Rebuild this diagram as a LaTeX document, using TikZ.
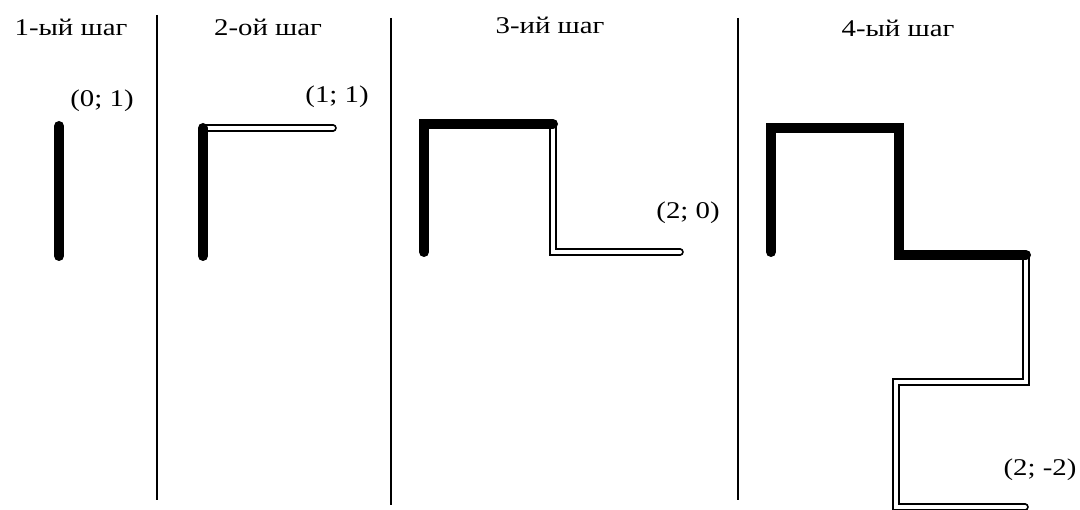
\documentclass[tikz,border=0pt]{standalone}
\usepackage{fontspec}
\setmainfont{Liberation Serif}[FakeStretch=1.2]
\begin{document}
\begin{tikzpicture}[x=1pt,y=-1pt,
  lbl/.style={font=\fontsize{24}{28}\selectfont, inner sep=0pt, anchor=center},
  divider/.style={line width=1.3pt, black},
  walked/.style={line width=10pt, line cap=round, line join=miter},
  newpath/.style={double=white, double distance=4pt, line width=1.8pt, line cap=round, line join=miter}]
\useasboundingbox (0,0) rectangle (1080,510);
% dividers
\draw[divider] (157,15) -- (157,500);
\draw[divider] (391,18) -- (391,505);
\draw[divider] (738,18) -- (738,500);
% titles
\node[lbl] (t1) at (71,27) {1-ый шаг};
\node[lbl] (t2) at (268,27) {2-ой шаг};
\node[lbl] (t3) at (550,25) {3-ий шаг};
\node[lbl] (t4) at (898,28) {4-ый шаг};
% step 1
\coordinate (a0) at (59,256);
\coordinate (a1) at (59,126);
\draw[walked] (a0) -- (a1);
\node[lbl] (l1) at (102,101) {(0; 1)};
% step 2
\coordinate (b0) at (203,256);
\coordinate (b1) at (203,128);
\coordinate (b2) at (333,128);
\draw[newpath] (b1) -- (b2);
\draw[walked] (b0) -- (b1);
\node[lbl] (l2) at (337,97) {(1; 1)};
% step 3
\coordinate (c0) at (424,252);
\coordinate (c1) at (424,124);
\coordinate (c2) at (553,124);
\coordinate (c3) at (553,252);
\coordinate (c4) at (680,252);
\draw[newpath] (c2) -- (c3) -- (c4);
\draw[walked] (c0) -- (c1) -- (c2);
\node[lbl] (l3) at (688,213) {(2; 0)};
% step 4
\coordinate (d0) at (771,252);
\coordinate (d1) at (771,128);
\coordinate (d2) at (899,128);
\coordinate (d3) at (899,255);
\coordinate (d4) at (1026,255);
\coordinate (d5) at (1026,382);
\coordinate (d6) at (896,382);
\coordinate (d7) at (896,507);
\coordinate (d8) at (1025,507);
\draw[newpath] (d4) -- (d5) -- (d6) -- (d7) -- (d8);
\draw[walked] (d0) -- (d1) -- (d2) -- (d3) -- (d4);
\node[lbl] (l4) at (1040,470) {(2; -2)};
\end{tikzpicture}
\end{document}
